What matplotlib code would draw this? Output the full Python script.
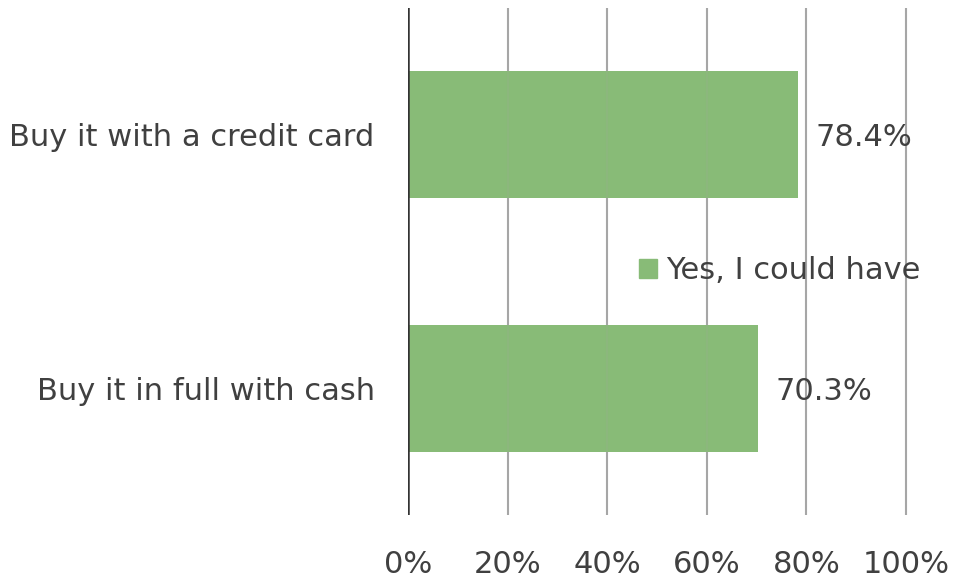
import matplotlib
matplotlib.use('Agg')
import matplotlib.pyplot as plt
from matplotlib.patches import Patch

categories = ['Buy it in full with cash', 'Buy it with a credit card']
values = [0.703, 0.784]
series_name = 'Yes, I could have'
xticks = [0, 0.2, 0.4, 0.6, 0.8, 1.0]
xtick_labels = ['0%', '20%', '40%', '60%', '80%', '100%']

bar_color = '#88BB77'
text_color = '#404040'

plt.rcParams['font.family'] = ['DejaVu Sans']

fig = plt.figure(figsize=(9.56, 5.79), dpi=100)
# axis runs a hair past 100% so the last gridline isn't clipped
ax = fig.add_axes([408/956, 1 - 515/579, (910 - 408)/956, (515 - 8)/579])

ypos = list(range(len(categories)))
ax.barh(ypos, values, height=0.5, color=bar_color, zorder=2)

# vertical gridlines, drawn faintly over the bars too
for x in xticks[1:]:
    ax.axvline(x, color='#A6A6A6', lw=1.5, zorder=1)
    ax.axvline(x, color='#A6A6A6', lw=1.5, alpha=0.15, zorder=3)
ax.axvline(0, color='#333333', lw=1.8, zorder=4)

for y, v in zip(ypos, values):
    ax.text(v + 0.034, y - 0.012, '%.1f%%' % (v * 100), va='center', ha='left',
            fontsize=22, color=text_color)

ax.set_xlim(0, 1.008)
ax.set_ylim(-0.5, 1.5)
ax.set_xticks(xticks)
ax.set_xticklabels(xtick_labels)
ax.set_yticks(ypos)
ax.set_yticklabels(categories)
ax.tick_params(axis='both', length=0, labelsize=22, labelcolor=text_color)
ax.tick_params(axis='y', pad=24)
ax.tick_params(axis='x', pad=25)
for s in ax.spines.values():
    s.set_visible(False)

ax.legend(handles=[Patch(color=bar_color, label=series_name)],
          loc='center', bbox_to_anchor=(0.74, 0.482), frameon=False,
          fontsize=22, handlelength=0.6, handleheight=0.6, handletextpad=0.3,
          labelcolor=text_color, borderaxespad=0, borderpad=0)

fig.savefig('out.png', dpi=100)
